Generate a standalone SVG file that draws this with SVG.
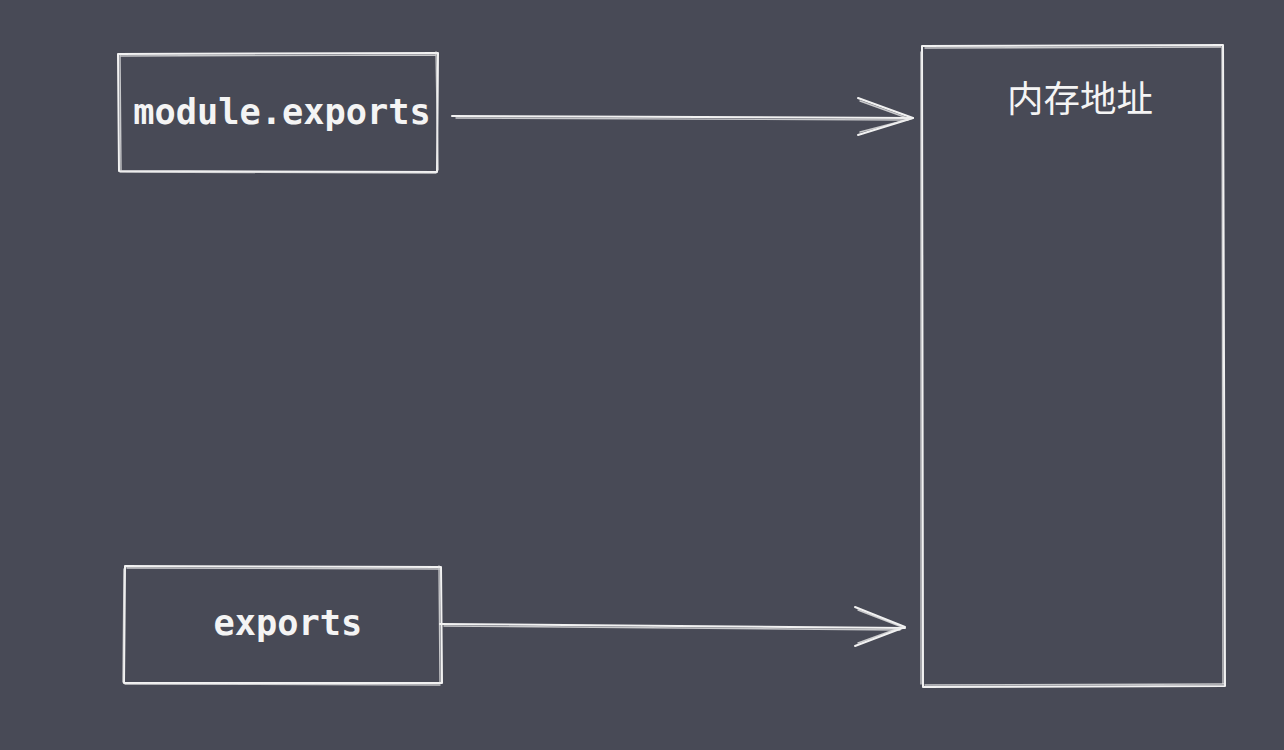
<svg xmlns="http://www.w3.org/2000/svg" width="1284" height="750" viewBox="0 0 1284 750">
  <style>
    .bg { fill: #484a56; }
    .sk { fill: none; stroke: #f2f2f2; stroke-width: 2; stroke-linecap: round; stroke-linejoin: round; }
    .sk2 { fill: none; stroke: #e8e8e8; stroke-width: 1.4; stroke-linecap: round; opacity: 0.8; }
    .code { font-family: "DejaVu Sans Mono", "Liberation Mono", monospace; font-weight: bold; font-size: 35.3px; fill: #f4f4f4; text-anchor: middle; }
    .cjk { font-family: "Noto Sans CJK SC", "Noto Sans", sans-serif; font-size: 36.5px; fill: #f4f4f4; text-anchor: middle; }
  </style>
  <rect class="bg" x="0" y="0" width="1284" height="750"/>

  <!-- module.exports box -->
  <g id="node-module-exports">
    <path class="sk" d="M118 54 L438 53 L437 172 L119 171 Z"/>
    <path class="sk2" d="M120 56 L436 55 M436 52 L438 170 M436 173 L120 172 M121 170 L120 55"/>
    <text class="code" x="282" y="124">module.exports</text>
  </g>

  <!-- exports box -->
  <g id="node-exports">
    <path class="sk" d="M125 566 L441 567 L442 683 L124 683 Z"/>
    <path class="sk2" d="M127 568 L440 569 M439 566 L440 682 M440 685 L125 684 M123 682 L124 569"/>
    <text class="code" x="288" y="635">exports</text>
  </g>

  <!-- memory address box -->
  <g id="node-memory">
    <path class="sk" d="M922 46 L1223 45 L1225 686 L923 687 Z"/>
    <path class="sk2" d="M925 48 L1221 47 M1222 48 L1223 684 M1224 684 L925 685 M921 684 L921 52"/>
    <text class="cjk" x="1080" y="112">内存地址</text>
  </g>

  <!-- connectors -->
  <g id="connectors">
    <path class="sk" d="M452 116 L913 118"/>
    <path class="sk2" d="M456 118 L908 120"/>
    <path class="sk" d="M858 98 L913 118 L858 135"/>
    <path class="sk2" d="M860 101 L910 119 L860 132"/>

    <path class="sk" d="M440 624 L905 628"/>
    <path class="sk2" d="M444 626 L900 630"/>
    <path class="sk" d="M855 607 L905 627 L855 646"/>
    <path class="sk2" d="M858 610 L902 627 L858 643"/>
  </g>
</svg>
